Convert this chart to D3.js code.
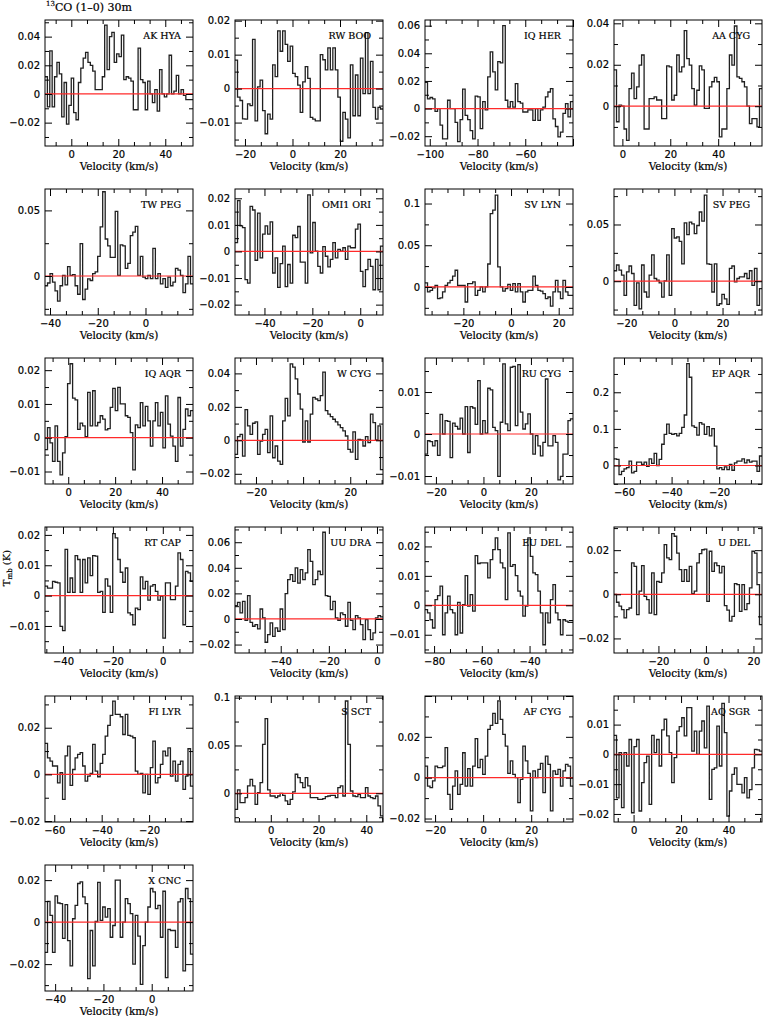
<!DOCTYPE html>
<html><head><meta charset="utf-8">
<script src="https://cdn.jsdelivr.net/npm/d3@7"></script>
<style>body{margin:0;background:#fff}</style>
</head><body>
<svg id="c" width="763" height="1016"></svg>
<script>
const stars = ["AK HYA","RW BOO","IQ HER","AA CYG","TW PEG","OMI1 ORI","SV LYN","SV PEG","IQ AQR","W CYG","RU CYG","EP AQR","RT CAP","UU DRA","EU DEL","U DEL","FI LYR","S SCT","AF CYG","AQ SGR","X CNC"];
const velRanges = [[-11.2,51.8],[-24.2,38.1],[-102,-40],[-3.5,58.3],[-42.1,19.9],[-52.3,9.5],[-36.1,26.0],[-25.1,36.4],[-9.9,53.2],[-28.9,33.9],[-24.6,37.7],[-64.2,-2.0],[-47.2,12.1],[-59,2.5],[-83.8,-21.8],[-38.7,23.6],[-63.9,-1.5],[-15,47],[-24.2,37.4],[-8.25,54.1],[-44.2,17.1]];
const tRanges = [[-0.0363,0.0516],[-0.0169,0.0202],[-0.0271,0.0641],[-0.0192,0.0416],[-0.0297,0.0663],[-0.0239,0.0235],[-0.0336,0.1174],[-0.0298,0.0813],[-0.0137,0.0236],[-0.0261,0.0492],[-0.0119,0.0181],[-0.0505,0.2936],[-0.0189,0.0226],[-0.0266,0.0719],[-0.0162,0.0266],[-0.0266,0.0305],[-0.0204,0.0336],[-0.030,0.1017],[-0.0217,0.040],[-0.0227,0.0196],[-0.0328,0.0272]];
const velTickStep = [20,20,20,20,20,20,20,20,20,20,20,20,20,20,20,20,20,20,20,20,20];
const velTickLabels = [[0,20,40],[-20,0,20],[-100,-80,-60],[0,20,40],[-40,-20,0],[-40,-20,0],[-20,0,20],[-20,0,20],[0,20,40],[-20,20],[-20,0,20],[-60,-40,-20],[-40,-20,0],[-40,-20,0],[-80,-60,-40],[-20,0,20],[-60,-40,-20],[0,20,40],[-20,0,20],[0,20,40],[-40,-20,0]];
const tTickLabels = [[-0.02,0,0.02,0.04],[-0.01,0,0.01,0.02],[-0.02,0,0.02,0.04,0.06],[0,0.02,0.04],[0,0.05],[-0.02,-0.01,0,0.01,0.02],[0,0.05,0.1],[0,0.05],[-0.01,0,0.01,0.02],[-0.02,0,0.02,0.04],[-0.01,0,0.01],[0,0.1,0.2],[-0.01,0,0.01,0.02],[-0.02,0,0.02,0.04,0.06],[-0.01,0,0.01,0.02],[-0.02,0,0.02],[-0.02,0,0.02],[0,0.05,0.1],[-0.02,0,0.02],[-0.02,-0.01,0,0.01],[-0.02,0,0.02]];

const T_AK_HYA = [0.012,-0.009,0.030,-0.009,0.012,0.022,0.014,-0.016,0.008,-0.021,-0.008,0.011,-0.013,-0.018,0.008,0.018,0.025,0.029,0.022,0.020,0.016,0.003,0.003,0.003,0.012,0.048,0.017,0.040,0.043,0.022,0.028,0.026,0.041,0.010,0.012,0.011,0.009,-0.011,-0.011,0.032,0.010,0.008,-0.011,0.009,0.000,-0.006,0.003,-0.012,0.017,0.000,-0.002,0.000,0.027,0.000,0.002,0.013,0.000,0.003,-0.001,-0.004,-0.004,-0.004];
const T_RW_BOO = [0.0084,-0.0025,-0.0035,-0.0089,-0.009,-0.0045,-0.005,0.0145,-0.0095,0.0005,0.0025,-0.0065,-0.0133,-0.0075,-0.009,0.007,0.0035,0.017,0.011,0.017,0.013,0.008,0.0125,0.0045,0.0035,0.001,-0.007,0.002,0.0065,0.003,-0.0085,-0.009,-0.0095,-0.0095,0.010,0.0085,0.0055,0.012,0.0055,0.012,0.0055,-0.0025,-0.0155,-0.007,-0.009,-0.0145,0.007,-0.008,0.004,-0.008,0.009,-0.0015,0.0165,-0.0015,0.008,-0.0055,-0.009,-0.0055,-0.006];
const T_IQ_HER = [0.019,0.007,0.008,0.007,-0.002,0,-0.012,-0.022,-0.022,0.006,0,0,-0.01,-0.024,-0.008,0.014,-0.005,-0.008,-0.016,-0.022,0.009,0.0085,-0.0145,0.005,-0.001,0.023,0.041,0.0265,0.0135,0.034,0.033,0.060,0.006,0.001,0.005,0.001,0.018,0.005,0.004,-0.0025,-0.0025,-0.001,-0.001,-0.0085,0,-0.0085,-0.001,0.001,0.0085,0.012,0.0145,-0.0075,-0.013,-0.0205,-0.017,-0.0035,0.0035,-0.006,0.005];
const T_AA_CYG = [0.0175,-0.0075,0.0005,0,-0.011,-0.0165,0.0085,0.016,0.0037,0.0093,0.0198,0.0247,-0.011,-0.011,0.0037,0.0037,0.0045,0.003,0.003,-0.006,-0.006,0.0195,0.019,0.003,0.0053,0.0247,0.0166,0.019,0.0365,0.023,0.0198,0.0085,0.0005,0.0077,0.0195,0.0175,-0.001,-0.001,0.0093,0.0118,0.0139,0.0118,-0.0148,-0.011,-0.011,0.0085,0.0247,0.0198,0.0387,0.0142,0.0134,0.0118,0.0093,0,-0.0084,-0.006,-0.006,-0.01,0.0085];
const T_TW_PEG = [-0.0074,-0.0053,0.0018,-0.0047,-0.0113,-0.0192,-0.0074,0.0005,-0.0068,0.0071,0.0005,0.001,-0.0074,-0.0139,0.0247,-0.0179,-0.01,-0.0021,-0.0034,0.0018,0.0032,0.015,0.0374,0.0642,0.0282,0.0229,0.0142,0.0142,0.0492,0.0005,0.0237,0.0229,0.0058,0.0097,0.0308,0.0334,0.0379,0.0005,0.015,-0.0008,-0.002,0.0005,-0.002,0.021,-0.002,0.0018,-0.006,-0.002,-0.0087,-0.0008,-0.0074,-0.0047,0.0058,0.0045,0.0005,-0.0126,-0.006,0.015,-0.006];
const T_OMI1_ORI = [0.0033,0.0191,0.0096,0.009,-0.0106,-0.0119,0.017,0.0156,-0.0033,0.0144,-0.0024,0.0065,0.0096,0.0065,0.0111,-0.0081,-0.0024,-0.0135,-0.0046,0.002,-0.0132,-0.0049,-0.0119,0.0061,0.0052,0.0094,-0.004,-0.004,-0.0119,0.0213,-0.0005,0.0109,0.0001,-0.0056,-0.0081,0.0018,-0.0018,-0.0058,-0.003,0.0033,-0.0024,0.0008,0.0001,0.0014,-0.003,0.002,0.0014,0.0014,0.0084,0.0103,-0.0075,-0.0132,-0.0068,-0.003,-0.0056,-0.0144,-0.003,-0.0144,0.002];
const T_SV_LYN = [0.005,-0.006,-0.004,-0.001,0.002,-0.014,-0.013,-0.006,0.002,0.005,0.008,0.013,0.02,0.002,0.002,0.002,-0.018,0.004,0.004,0.006,-0.01,-0.004,0,-0.006,0,0.0275,0.088,0.092,0.11,0.024,0,-0.005,-0.002,0.003,-0.004,0.004,-0.006,0.004,-0.006,-0.018,-0.006,-0.004,-0.004,0.013,0.002,-0.004,-0.005,-0.008,-0.014,-0.012,-0.023,-0.006,0.008,-0.006,-0.014,0.008,-0.006,-0.01,-0.01];
const T_SV_PEG = [0.0092,0.0143,0.0098,0.0054,-0.0125,0.0083,0.0134,0.0068,-0.0214,-0.0015,-0.0244,0.0143,-0.0095,-0.014,0.0054,0.0232,0.0024,0.0009,-0.0015,-0.014,0.0003,0.0232,-0.0125,0.0464,0.0381,0.039,0.0351,0.0152,0.0515,0.0411,0.0521,0.0506,0.042,0.0491,0.061,0.053,0.0759,0.0152,0.0149,-0.0095,0.0152,-0.0214,-0.0199,-0.0116,-0.0155,-0.0205,0.0113,0.0134,-0.0006,0.0024,0.0039,0.0039,0.0068,0.0024,0.0092,-0.0036,0.0113,-0.0214,-0.0065];
const T_IQ_AQR = [-0.0035,0.003,-0.0015,-0.007,0.0035,-0.007,-0.011,-0.0045,0.0003,0.016,0.0219,0.0117,0.0112,0.0025,0.0043,0.0035,0.0003,0.0134,0.0035,0.0139,0.0035,0.0045,0.0065,0.0055,0.0023,0.0027,0.009,0.0146,0.008,0.0149,0.01,0.01,0.0065,0.006,0.0015,-0.0095,0.0038,0.003,0.0104,0.0035,0.0093,0.005,-0.0025,0.005,0.0104,0.0035,0.0075,-0.003,0.0124,0.004,0.0005,-0.0025,-0.007,0.0119,-0.0025,0.0025,0.0085,0.0065,0.008];
const T_W_CYG = [-0.0084,0.0022,0.0036,-0.0094,0.0183,0.0086,0.0036,0.0102,0.011,-0.0084,-0.0004,0.0036,0.0066,-0.0074,0.0146,-0.0104,-0.0034,-0.0124,-0.0144,0.0116,0.0251,0.0146,0.0457,0.0437,0.0367,0.0277,0.0187,-0.001,0.0116,-0.001,0.0156,0.0257,0.0247,0.0237,0.0267,0.0407,0.0177,0.0156,0.0142,0.0126,0.011,0.0092,0.0076,0.0056,0.0026,-0.0054,-0.007,0.005,-0.0114,0.0006,0.0002,-0.0034,0.0022,-0.0014,0.0156,0.0106,0.0002,0.0086,-0.0175];
const T_RU_CYG = [-0.0048,-0.0016,-0.0018,-0.0028,-0.0016,-0.0051,0.0047,0,0.0032,0.003,-0.0056,0.0026,0.0018,0.0012,0.0038,0,0.0065,-0.0044,0.0065,0.0062,0.0023,0.0127,0,0.0032,0.0002,0.0109,0.0105,0.0016,0.0008,-0.0101,0.0028,0.0167,0.0024,0.0008,0.0159,0.0161,0.002,0.0165,0.0052,0.0012,0.0024,0.0048,0,-0.0048,-0.0004,-0.0028,-0.0052,-0.002,0.0131,-0.0028,-0.0028,-0.0004,-0.002,-0.0109,-0.0101,-0.0048,-0.0048,0.0032,0.0036];
const T_EP_AQR = [0.018,0.017,-0.025,-0.016,-0.009,-0.006,0.012,-0.02,-0.016,0.009,0.009,0.003,0.009,-0.002,0.018,0.006,0.033,0,0.017,0.058,0.085,0.113,0.088,0.085,0.087,0.081,0.088,0.104,0.138,0.278,0.241,0.108,0.104,0.083,0.117,0.113,0.085,0.106,0.081,0.101,0.053,-0.009,-0.006,-0.011,-0.004,-0.011,0.003,-0.013,0.007,0.012,0.012,0.018,0.007,0.015,0.009,0.012,0.012,-0.016,0.026];
const T_RT_CAP = [0.0031,0.0025,0.0025,0.0047,0.0044,0.0042,-0.0101,-0.0115,0.0152,0.0011,0.0058,0.0011,0.0132,0.0119,0.0011,0.0119,0.0042,0.0124,0.0066,0.0132,0.013,0.0011,0.0014,-0.0055,0.0055,0.0031,-0.0055,0.0204,0.019,0.0119,0.0077,0.0044,0.0091,-0.0057,-0.0063,-0.0096,-0.0041,-0.0046,0.0062,0.0022,0.0047,-0.0015,0.0031,0.0036,0.0014,-0.0015,-0.0002,-0.014,0.0042,0.0042,-0.0013,-0.0013,0.0031,0.0141,0.0119,-0.0096,0.008,0.0075,0.0047];
const T_UU_DRA = [0.0104,0.013,0.0047,0.0138,-0.001,0.0182,-0.0026,-0.0057,-0.0044,-0.0078,0.0078,0.0008,-0.0182,-0.0122,-0.0031,-0.0136,-0.007,-0.0096,0.0078,-0.0083,0.0198,0.0307,0.0347,0.0294,0.0399,0.0281,0.0386,0.0307,0.036,0.0542,0.0451,0.0268,0.0307,0.0373,0.0347,0.0678,0.0182,0.0177,0.0073,0.0138,0.0008,-0.001,0.0047,0.0034,-0.0057,0.013,-0.001,-0.0083,0.0026,0.0008,-0.0044,-0.0162,-0.0005,-0.0083,-0.0162,-0.0109,0.0008,0.0026,0.0016];
const T_EU_DEL = [-0.0015,-0.0026,-0.0049,-0.0077,0.0019,0.0033,0.0065,-0.01,-0.0026,0.0031,-0.0015,-0.0026,-0.01,0.001,-0.0094,0.0002,0.0101,-0.0003,0.0036,-0.002,0.0169,0.0142,0.0144,0.0144,0.0144,0.0093,0.0155,0.0189,0.0229,0.0189,0.0144,0.0127,0.0019,0.0246,0.0132,0.0138,0.0101,0.0048,0.0031,-0.0037,-0.0003,0.0229,0.0166,0.011,0.0104,0.0048,-0.0026,-0.0134,-0.0026,-0.006,0.0019,0.007,-0.0026,-0.0049,-0.01,-0.0049,-0.0054,-0.0058,-0.0058];
const T_U_DEL = [0,-0.0036,-0.0054,-0.0069,-0.0107,-0.0069,-0.0062,0.0142,0.0127,-0.0092,0.0014,0.013,-0.0009,-0.0024,-0.0085,0.0097,-0.0092,0.0059,0.0054,0.0097,0.0225,0.0165,0.0157,0.0275,0.0263,0.0187,0.0112,0.0059,0.0112,0.0059,0.0127,0.0003,0.0014,0.0142,0.0184,0.0202,0.0205,-0.0032,0.0195,0.0104,0.0142,0.013,0.0097,0.0127,-0.0051,-0.0072,-0.0122,-0.01,0.0048,0.0044,-0.0077,0.0044,-0.0069,-0.0042,0.0029,0.0195,0.0187,0.0044,-0.0137];
const T_FI_LYR = [0.0133,0.0071,0.0057,0.0036,0.0036,-0.0036,0.0007,-0.0107,0.0079,0.0121,-0.0047,0.0021,0.0071,0.0086,0.0093,0.0036,-0.0029,-0.0007,0.0004,0.0129,0.0014,-0.001,0.0047,0.0086,0.0164,0.021,0.0253,0.0314,0.0257,0.0257,0.0247,0.0171,0.0257,0.0167,0.0164,0.0157,0.0014,0,0.0004,-0.0079,0,-0.0086,0.0029,0.0143,-0.0036,-0.0014,0.0043,0.01,0.0079,0.0114,-0.0007,0.0057,-0.0029,0.0043,0.0057,-0.0064,-0.0007,0.011,-0.005];
const T_S_SCT = [-0.0167,0.0035,-0.0098,-0.0098,-0.0045,0.0077,0.0146,0.0077,-0.0115,0.0007,0.0111,0.0512,0.078,0.0035,-0.0028,-0.0028,-0.0045,-0.0028,0,-0.0021,-0.008,-0.0115,-0.0063,0.0014,0.0199,0.0164,0.0111,0.0059,0.0164,0.0077,-0.0045,-0.0045,-0.0045,-0.0063,-0.0063,-0.0056,-0.0035,-0.0028,-0.0021,-0.0021,-0.0045,0.0059,0.0077,-0.0028,0.0965,0.0512,0.0024,-0.0028,-0.0035,-0.001,-0.0045,-0.0045,0.0059,-0.0028,-0.0045,-0.0056,-0.0028,-0.0132,-0.0237];
const T_AF_CYG = [0.0057,-0.0041,-0.0049,-0.0016,0.0057,0.0049,0.0049,0.0057,0.0147,-0.0082,-0.0155,-0.0041,0.0033,-0.0082,-0.0033,0.0122,-0.0041,0.0044,-0.0041,0.0057,0.0191,0.0049,0.009,0.0016,0.0106,0.0237,0.0256,0.0315,0.0266,0.0376,0.0286,0.0212,0.0155,0.0021,0.0082,0.0016,0,-0.0122,-0.0008,0.0155,0.0082,0.0021,-0.0163,0.0033,0,0.0041,0.007,-0.0073,0.0106,0.0065,-0.0163,0.0033,0.0016,0.0041,-0.0041,0.0033,0.0065,0.0057,-0.0041];
const T_AQ_SGR = [0.0064,-0.0146,0.0006,-0.0179,0.0006,-0.0039,0.005,-0.0196,0.0026,0.005,-0.019,-0.0095,-0.0028,-0.0006,-0.0168,0.0064,0.0006,0.005,-0.0039,0.0082,0.0118,0.0062,0.0006,-0.0095,-0.0011,0.0078,0.0093,0.0123,0.0062,0.0157,0.0157,0.0011,0.0078,0,0.0078,0.0112,0.0022,0.0162,-0.0151,-0.005,-0.0045,0.0095,-0.0039,0.0171,0.0073,-0.0207,-0.0123,-0.0067,-0.0045,-0.0101,-0.0101,-0.0129,-0.0078,-0.0146,-0.0118,-0.0045,0.0017,0.0015,0.0011];
const T_X_CNC = [-0.0144,0.0099,0.0032,-0.0144,0.0125,0.0091,0.0088,-0.0077,0.0083,-0.0088,-0.0208,0.0016,0.008,0.0184,0.0192,0.012,0.0088,-0.0269,-0.004,-0.0208,0.0003,0.0189,0.0008,0.0072,0.0024,0.0064,-0.0072,-0.0016,0.02,0.02,-0.0072,0,0.0112,0.0088,0.004,-0.02,0.0032,-0.0067,-0.0296,-0.0112,0,0.0072,0.016,0.0144,0.0064,0.008,-0.0072,0.0147,-0.0264,-0.0035,-0.004,-0.004,-0.012,0.0096,0.0112,-0.0232,0.016,0.0112,-0.0152];

const spectra = [T_AK_HYA,T_RW_BOO,T_IQ_HER,T_AA_CYG,T_TW_PEG,T_OMI1_ORI,T_SV_LYN,T_SV_PEG,T_IQ_AQR,T_W_CYG,T_RU_CYG,T_EP_AQR,T_RT_CAP,T_UU_DRA,T_EU_DEL,T_U_DEL,T_FI_LYR,T_S_SCT,T_AF_CYG,T_AQ_SGR,T_X_CNC];

const svg = d3.select("#c");
const colX = [45, 235, 425, 614];
const boxW = 148, boxH = 126, rowStep = 169, top0 = 20;
const numFont = "DejaVu Sans", txtFont = "DejaVu Serif";
const fmtT = d3.format("~g"), fmtV = d3.format("d");

function gridValues(domain, step) {
  const lo = Math.ceil(domain[0] / step - 1e-9), hi = Math.floor(domain[1] / step + 1e-9);
  return d3.range(lo, hi + 1).map(k => +(k * step).toFixed(6));
}

stars.forEach((name, i) => {
  const gx = colX[i % 4], gy = top0 + Math.floor(i / 4) * rowStep;
  const g = svg.append("g").attr("transform", `translate(${gx},${gy})`);
  const x = d3.scaleLinear().domain(velRanges[i]).range([0, boxW]);
  const y = d3.scaleLinear().domain(tRanges[i]).range([boxH, 0]);

  const clipId = "clip" + i;
  g.append("clipPath").attr("id", clipId).append("rect").attr("width", boxW).attr("height", boxH);

  // spectrum histogram
  const vals = spectra[i];
  const [vmin, vmax] = velRanges[i];
  const dv = (vmax - vmin) / vals.length;
  const pts = [];
  vals.forEach((t, k) => { const a = vmin + k * dv; pts.push([a, t], [a + dv, t]); });
  const line = d3.line().x(d => x(d[0])).y(d => y(d[1]));
  g.append("path").attr("clip-path", `url(#${clipId})`).datum(pts).attr("d", line)
    .attr("fill", "none").attr("stroke", "#202020").attr("stroke-width", 1.3);

  // zero line
  g.append("line").attr("clip-path", `url(#${clipId})`)
    .attr("x1", 0).attr("x2", boxW).attr("y1", y(0)).attr("y2", y(0))
    .attr("stroke", "#ff2a2a").attr("stroke-width", 1.2);

  // ticks
  const vStep = velTickStep[i];
  const vMajor = gridValues(velRanges[i], vStep);
  const vMinor = gridValues(velRanges[i], vStep / 3).filter(v => !vMajor.some(m => Math.abs(m - v) < 1e-6));
  const tStep = +(tTickLabels[i][1] - tTickLabels[i][0]).toFixed(6);
  const tMajor = gridValues(tRanges[i], tStep);
  const tMinor = gridValues(tRanges[i], tStep / 2).filter(v => !tMajor.some(m => Math.abs(m - v) < 1e-9));
  const vLab = velTickLabels[i], tLab = tTickLabels[i];

  const axes = [
    [d3.axisBottom(x).tickValues(vMajor).tickSize(-7).tickPadding(5).tickFormat(v => vLab.includes(v) ? fmtV(v) : ""), `translate(0,${boxH})`],
    [d3.axisBottom(x).tickValues(vMinor).tickSize(-4).tickFormat(""), `translate(0,${boxH})`],
    [d3.axisTop(x).tickValues(vMajor).tickSize(-7).tickFormat(""), null],
    [d3.axisTop(x).tickValues(vMinor).tickSize(-4).tickFormat(""), null],
    [d3.axisLeft(y).tickValues(tMajor).tickSize(-7).tickPadding(5).tickFormat(v => tLab.some(l => Math.abs(l - v) < 1e-9) ? fmtT(v) : ""), null],
    [d3.axisLeft(y).tickValues(tMinor).tickSize(-4).tickFormat(""), null],
    [d3.axisRight(y).tickValues(tMajor).tickSize(-7).tickFormat(""), `translate(${boxW},0)`],
    [d3.axisRight(y).tickValues(tMinor).tickSize(-4).tickFormat(""), `translate(${boxW},0)`]
  ];
  axes.forEach(([ax, tr]) => {
    const a = g.append("g").call(ax.tickSizeOuter(0));
    if (tr) a.attr("transform", tr);
    a.select(".domain").remove();
    a.selectAll("line").attr("stroke", "#000").attr("stroke-width", 1);
    a.selectAll("text").attr("font-family", numFont).attr("font-size", 10).attr("fill", "#000")
      .attr("stroke", "#000").attr("stroke-width", 0.2);
  });

  // frame
  g.append("rect").attr("width", boxW).attr("height", boxH).attr("fill", "none")
    .attr("stroke", "#000").attr("stroke-width", 1);

  // star name
  g.append("text").attr("x", boxW - 12).attr("y", 19).attr("text-anchor", "end")
    .attr("font-family", txtFont).attr("font-size", 9.5).attr("stroke", "#000").attr("stroke-width", 0.2).text(name);

  // x label
  g.append("text").attr("x", boxW / 2).attr("y", boxH + 24).attr("text-anchor", "middle")
    .attr("font-family", txtFont).attr("font-size", 10.5).attr("stroke", "#000").attr("stroke-width", 0.2).text("Velocity (km/s)");
});

// title
const title = svg.append("text").attr("x", 46).attr("y", 11).attr("font-family", txtFont).attr("font-size", 11)
  .attr("stroke", "#000").attr("stroke-width", 0.2);
title.append("tspan").attr("font-size", 7).attr("dy", -5).text("13");
title.append("tspan").attr("dy", 5).text("CO (1\u20130) 30m");

// y axis label
const yl = svg.append("text").attr("transform", "translate(10,568) rotate(-90)").attr("text-anchor", "middle")
  .attr("font-family", txtFont).attr("font-size", 10).attr("stroke", "#000").attr("stroke-width", 0.2);
yl.append("tspan").text("T");
yl.append("tspan").attr("font-size", 7).attr("dy", 2).text("mb");
yl.append("tspan").attr("dy", -2).text(" (K)");
</script>
</body></html>
